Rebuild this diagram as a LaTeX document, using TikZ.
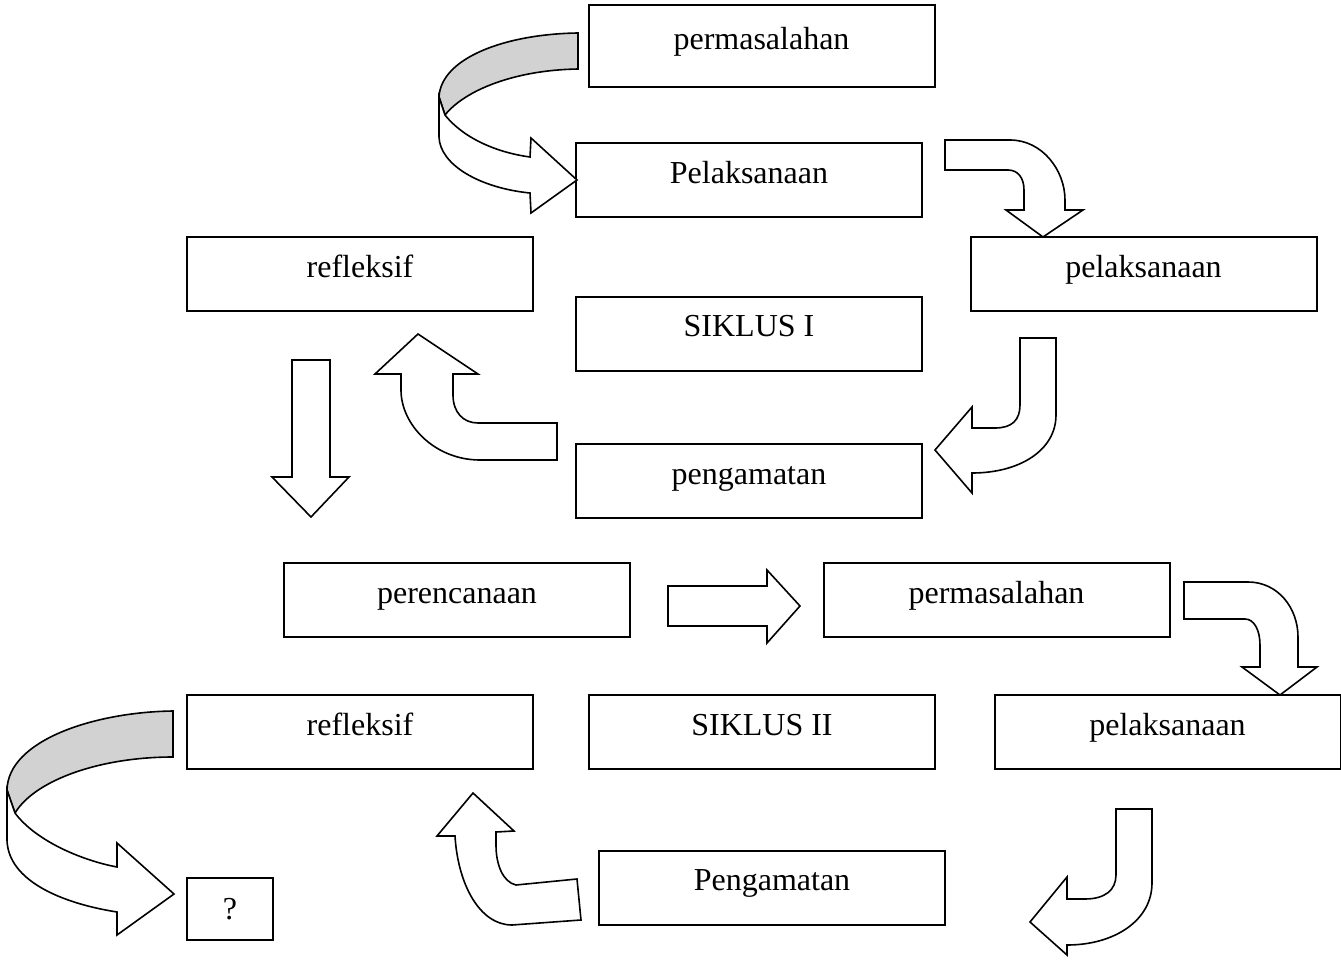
\documentclass[tikz,border=0pt]{standalone}
\usepackage{fontspec}
\setmainfont{Liberation Serif}

\begin{document}
\begin{tikzpicture}[x=0.5pt, y=-0.5pt, line join=miter,
    kotak/.style={draw, line width=1pt, minimum width=173pt, minimum height=37pt,
      inner sep=0pt, text height=11pt, text depth=8pt,
      font=\fontsize{16}{19}\selectfont},
    panah/.style={draw, line width=0.8pt, fill=white},
    pita/.style={draw, line width=0.8pt, fill=gray!35}]

    % 画布大小(像素坐标,y 向下)
    \useasboundingbox (0,0) rectangle (1341,964);

    % 第一轮:方框
    \node[kotak, minimum height=41pt] (masalah1) at (761.5,46) {permasalahan};
    \foreach \nama/\xpos/\ypos/\teks in {
        laksana1/749/180/Pelaksanaan,
        refleksi1/360/274/refleksif,
        laksana2/1143.5/274/pelaksanaan,
        siklus1/749/333.5/SIKLUS I,
        amat1/749/481/pengamatan} {
      \node[kotak] (\nama) at (\xpos,\ypos) {\teks};
    }

    % 第二轮:方框
    \foreach \nama/\xpos/\ypos/\teks in {
        rencana2/457/600/perencanaan,
        masalah2/996.5/600/permasalahan,
        refleksi2/360/732/refleksif,
        siklus2/762/732/SIKLUS II,
        laksana3/1167.5/732/pelaksanaan,
        amat2/772/887.5/Pengamatan} {
      \node[kotak] (\nama) at (\xpos,\ypos) {\teks};
    }

    % 结果
    \node[draw, line width=1pt, minimum width=43pt, minimum height=31pt,
      inner sep=0pt, font=\fontsize{16}{19}\selectfont] (hasil) at (230,909) {?};

    % 上方的弯曲箭头(带灰色背面)
    \draw[pita] (578,33) .. controls (505,34) and (441,58) .. (439,97)
      -- (445,115) .. controls (465,90) and (515,70) .. (578,69) -- cycle;
    \draw[panah] (439,97) -- (445,115) .. controls (465,140) and (500,153) .. (530,157)
      -- (531,138) -- (577,180) -- (531,213) -- (530,193)
      .. controls (480,188) and (440,165) .. (439,137) -- cycle;

    % 右上弯箭头
    \draw[panah] (945,140) -- (1010,140) .. controls (1042,140) and (1065,170) .. (1065,200)
      -- (1065,210) -- (1083,210) -- (1043,237) -- (1006,210) -- (1024,210) -- (1024,190)
      .. controls (1024,178) and (1018,170) .. (1008,170) -- (945,170) -- cycle;

    % 右侧 J 形箭头
    \draw[panah] (1020,338) -- (1056,338) -- (1056,415)
      .. controls (1056,450) and (1020,473) .. (972,473)
      -- (972,493) -- (935,450) -- (972,407) -- (972,428) -- (995,428)
      .. controls (1012,428) and (1020,420) .. (1020,405) -- cycle;

    % 左侧向上弯箭头
    \draw[panah] (557,423) -- (557,460) -- (480,460)
      .. controls (435,460) and (401,425) .. (401,390)
      -- (401,374) -- (375,374) -- (418,334) -- (478,374) -- (453,374) -- (453,395)
      .. controls (453,412) and (463,423) .. (478,423) -- cycle;

    % 向下的直箭头
    \draw[panah] (292,360) -- (330,360) -- (330,477) -- (349,477) -- (311,517)
      -- (272,477) -- (292,477) -- cycle;

    % 向右的直箭头
    \draw[panah] (668,586) -- (767,586) -- (767,570) -- (800,606) -- (767,643)
      -- (767,626) -- (668,626) -- cycle;

    % 第二轮右侧弯箭头
    \draw[panah] (1184,582) -- (1248,582) .. controls (1278,582) and (1298,608) .. (1298,637)
      -- (1298,667) -- (1317,667) -- (1280,695) -- (1242,667) -- (1260,667) -- (1260,645)
      .. controls (1260,630) and (1254,619) .. (1245,619) -- (1184,619) -- cycle;

    % 右下 J 形箭头
    \draw[panah] (1116,809) -- (1152,809) -- (1152,883)
      .. controls (1152,920) and (1115,945) .. (1067,945)
      -- (1067,955) -- (1030,922) -- (1067,877) -- (1067,899) -- (1085,899)
      .. controls (1105,899) and (1116,890) .. (1116,875) -- cycle;

    % 下方向上弯箭头(略倾斜)
    \draw[panah] (577,879) -- (516,885) .. controls (503,882) and (496,865) .. (496,845)
      -- (496,832) -- (514,831) -- (473,793) -- (437,836) -- (455,836)
      .. controls (458,885) and (480,925) .. (512,925) -- (581,920) -- cycle;

    % 左下弯曲箭头(带灰色背面)
    \draw[pita] (173,711) .. controls (95,712) and (8,740) .. (7,790)
      -- (15,813) .. controls (35,780) and (100,757) .. (173,757) -- cycle;
    \draw[panah] (7,790) -- (15,813) .. controls (35,840) and (80,860) .. (117,867)
      -- (117,843) -- (174,894) -- (117,935) -- (117,912)
      .. controls (60,903) and (8,880) .. (7,840) -- cycle;

  \end{tikzpicture}
\end{document}
